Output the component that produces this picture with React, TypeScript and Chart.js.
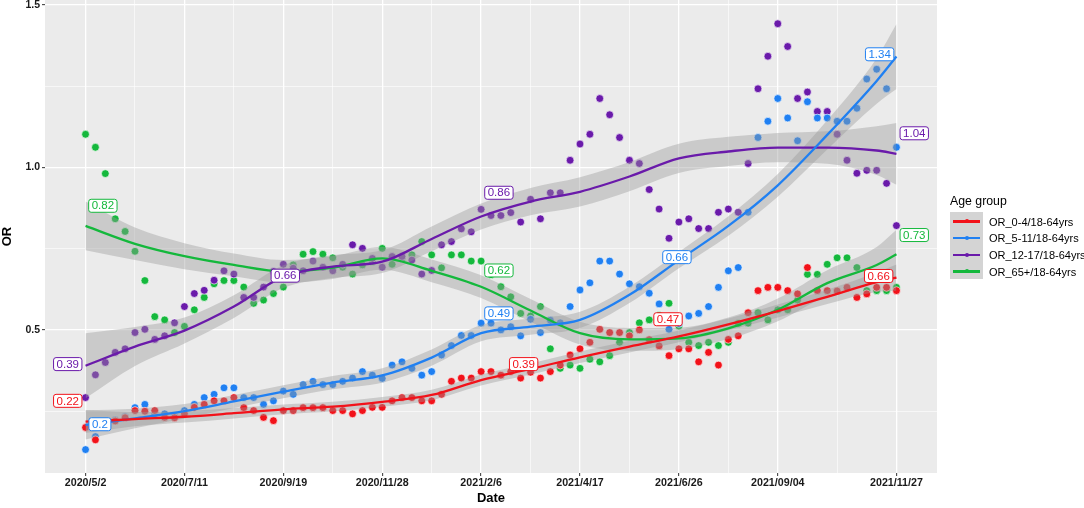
import React, { useEffect, useRef } from 'react';
import { Chart, registerables } from 'chart.js';

Chart.register(...registerables);

// weekly OR values, week 0 = 2020/5/2 ... week 82 = 2021/11/27
const or04 = [
  0.2, 0.162, 0.21, 0.22, 0.23, 0.252, 0.25, 0.252, 0.231, 0.23, 0.242, 0.262, 0.271, 0.282, 0.282, 0.292,
  0.261, 0.252, 0.231, 0.221, 0.252, 0.252, 0.261, 0.261, 0.261, 0.252, 0.252, 0.242, 0.252, 0.262, 0.262,
  0.282, 0.292, 0.292, 0.282, 0.282, 0.302, 0.342, 0.352, 0.352, 0.372, 0.372, 0.361, 0.372, 0.352, 0.37,
  0.352, 0.372, 0.392, 0.423, 0.442, 0.462, 0.502, 0.492, 0.492, 0.482, 0.5, 0.47, 0.451, 0.421, 0.442,
  0.442, 0.402, 0.431, 0.392, 0.471, 0.482, 0.553, 0.621, 0.631, 0.631, 0.621, 0.611, 0.692, 0.621, 0.621,
  0.62, 0.631, 0.6, 0.611, 0.631, 0.631, 0.621,
];
const or511 = [
  0.132, 0.172, 0.21, 0.223, 0.233, 0.261, 0.271, 0.242, 0.242, 0.234, 0.252, 0.271, 0.292, 0.302, 0.322,
  0.322, 0.292, 0.292, 0.271, 0.282, 0.312, 0.302, 0.332, 0.342, 0.332, 0.332, 0.342, 0.352, 0.372, 0.361,
  0.351, 0.392, 0.402, 0.382, 0.361, 0.372, 0.423, 0.452, 0.483, 0.483, 0.521, 0.521, 0.5, 0.51, 0.482,
  0.533, 0.492, 0.53, 0.522, 0.572, 0.623, 0.645, 0.712, 0.712, 0.672, 0.642, 0.633, 0.613, 0.58, 0.502,
  0.52, 0.543, 0.551, 0.572, 0.631, 0.682, 0.692, 0.862, 1.092, 1.142, 1.212, 1.152, 1.082, 1.202, 1.152,
  1.152, 1.142, 1.142, 1.182, 1.272, 1.302, 1.242, 1.062,
];
const or1217 = [
  0.292, 0.362, 0.4, 0.431, 0.442, 0.492, 0.502, 0.471, 0.482, 0.522, 0.572, 0.612, 0.622, 0.653, 0.682,
  0.672, 0.6, 0.6, 0.632, 0.68, 0.702, 0.69, 0.682, 0.712, 0.693, 0.682, 0.702, 0.762, 0.751, 0.72, 0.693,
  0.726, 0.726, 0.715, 0.672, 0.683, 0.762, 0.772, 0.811, 0.802, 0.871, 0.852, 0.852, 0.861, 0.832, 0.902,
  0.842, 0.922, 0.922, 1.022, 1.072, 1.102, 1.212, 1.162, 1.092, 1.022, 1.012, 0.932, 0.872, 0.782, 0.832,
  0.842, 0.812, 0.812, 0.862, 0.872, 0.862, 1.012, 1.242, 1.342, 1.442, 1.372, 1.212, 1.232, 1.172, 1.172,
  1.102, 1.022, 0.982, 0.991, 0.991, 0.951, 0.821,
];
const or65 = [
  1.102, 1.062, 0.981, 0.842, 0.803, 0.742, 0.652, 0.541, 0.531, 0.492, 0.511, 0.562, 0.6, 0.642, 0.652,
  0.652, 0.632, 0.582, 0.592, 0.612, 0.632, 0.7, 0.733, 0.741, 0.733, 0.722, 0.693, 0.672, 0.7, 0.71, 0.751,
  0.702, 0.72, 0.731, 0.772, 0.731, 0.691, 0.731, 0.731, 0.712, 0.712, 0.67, 0.633, 0.602, 0.551, 0.543,
  0.572, 0.442, 0.382, 0.392, 0.382, 0.41, 0.402, 0.421, 0.462, 0.492, 0.522, 0.531, 0.545, 0.582, 0.512,
  0.462, 0.452, 0.462, 0.452, 0.462, 0.52, 0.521, 0.553, 0.531, 0.562, 0.562, 0.592, 0.671, 0.671, 0.702,
  0.722, 0.722, 0.692, 0.621, 0.621, 0.621, 0.631,
];

// smoothed fit and its half band, read at these weeks
const fitWeeks = [0, 5, 10, 15, 20, 25, 30, 35, 40, 45, 50, 55, 60, 65, 70, 75, 80, 82];
const fit04 = [0.218, 0.226, 0.233, 0.244, 0.256, 0.264, 0.279, 0.3, 0.346, 0.38, 0.416, 0.449, 0.48, 0.517, 0.558, 0.602, 0.647, 0.661];
const se04 = [0.035, 0.022, 0.018, 0.016, 0.015, 0.015, 0.015, 0.016, 0.017, 0.017, 0.018, 0.018, 0.018, 0.018, 0.02, 0.022, 0.03, 0.04];
const fit511 = [0.208, 0.228, 0.25, 0.28, 0.31, 0.338, 0.36, 0.415, 0.49, 0.51, 0.531, 0.608, 0.715, 0.82, 0.945, 1.1, 1.266, 1.341];
const se511 = [0.045, 0.03, 0.022, 0.02, 0.02, 0.02, 0.022, 0.025, 0.025, 0.025, 0.025, 0.025, 0.025, 0.03, 0.035, 0.045, 0.07, 0.1];
const fit1217 = [0.39, 0.449, 0.498, 0.572, 0.664, 0.695, 0.71, 0.78, 0.849, 0.895, 0.925, 0.972, 1.028, 1.049, 1.061, 1.061, 1.052, 1.042];
const se1217 = [0.1, 0.06, 0.04, 0.035, 0.035, 0.035, 0.035, 0.038, 0.04, 0.042, 0.045, 0.045, 0.045, 0.045, 0.045, 0.05, 0.075, 0.095];
const fit65 = [0.82, 0.765, 0.727, 0.7, 0.68, 0.692, 0.72, 0.682, 0.633, 0.56, 0.49, 0.471, 0.474, 0.505, 0.562, 0.644, 0.7, 0.733];
const se65 = [0.075, 0.05, 0.04, 0.035, 0.035, 0.035, 0.035, 0.035, 0.035, 0.035, 0.035, 0.035, 0.033, 0.033, 0.035, 0.04, 0.055, 0.075];

const seriesNames = ['OR_0-4/18-64yrs', 'OR_5-11/18-64yrs', 'OR_12-17/18-64yrs', 'OR_65+/18-64yrs'];
const seriesColors = ['#F2121A', '#2080F2', '#6A1AAA', '#14B83C'];

const tickWeeks = [0, 10, 20, 30, 40, 50, 60, 70, 82];
const tickLabels = ['2020/5/2', '2020/7/11', '2020/9/19', '2020/11/28', '2021/2/6', '2021/4/17', '2021/6/26', '2021/09/04', '2021/11/27'];
const minorWeeks = [5, 15, 25, 35, 45, 55, 65, 76];
const yTicks = [0.5, 1.0, 1.5];
const yMinor = [0.25, 0.75, 1.25];

// value labels
const labelTexts = ['0.22', '0.2', '0.39', '0.82', '0.66', '0.86', '0.62', '0.49', '0.39', '0.47', '0.66', '1.34', '1.04', '0.73', '0.66'];
const labelSeries = [0, 1, 2, 3, 2, 2, 3, 1, 0, 0, 1, 1, 2, 3, 0];
const labelWeeks = [-1.8, 1.45, -1.8, 1.75, 20.2, 41.8, 41.8, 41.8, 44.3, 58.9, 59.8, 80.3, 83.8, 83.8, 80.2];
const labelValues = [0.282, 0.21, 0.395, 0.882, 0.667, 0.922, 0.683, 0.551, 0.395, 0.533, 0.724, 1.348, 1.105, 0.792, 0.666];

const FONT = '"Liberation Sans", Arial, sans-serif';

const panelBg = {
  id: 'panelBg',
  beforeDraw(chart: any) {
    const { ctx, chartArea: a } = chart;
    ctx.save();
    ctx.fillStyle = '#EBEBEB';
    ctx.fillRect(a.left, a.top, a.right - a.left, a.bottom - a.top);
    ctx.restore();
  },
};

const valueLabels = {
  id: 'valueLabels',
  afterDatasetsDraw(chart: any) {
    const { ctx, scales } = chart;
    ctx.save();
    ctx.font = `11.5px ${FONT}`;
    ctx.textAlign = 'center';
    ctx.textBaseline = 'middle';
    labelTexts.forEach((t, i) => {
      const col = seriesColors[labelSeries[i]];
      const cx = scales.x.getPixelForValue(labelWeeks[i]);
      const cy = scales.y.getPixelForValue(labelValues[i]);
      const w = ctx.measureText(t).width + 6;
      const h = 13;
      ctx.beginPath();
      ctx.roundRect(cx - w / 2, cy - h / 2, w, h, 2.5);
      ctx.fillStyle = '#ffffff';
      ctx.fill();
      ctx.lineWidth = 1;
      ctx.strokeStyle = col;
      ctx.stroke();
      ctx.fillStyle = col;
      ctx.fillText(t, cx, cy + 0.5);
    });
    ctx.restore();
  },
};

const axisTitles = {
  id: 'axisTitles',
  afterDraw(chart: any) {
    const { ctx, chartArea: a } = chart;
    ctx.save();
    ctx.font = `bold 13px ${FONT}`;
    ctx.fillStyle = '#000';
    ctx.textAlign = 'center';
    ctx.textBaseline = 'middle';
    ctx.fillText('Date', (a.left + a.right) / 2, 498);
    ctx.translate(7, (a.top + a.bottom) / 2);
    ctx.rotate(-Math.PI / 2);
    ctx.fillText('OR', 0, 0);
    ctx.restore();
  },
};

const App: React.FC = () => {
  const canvasRef = useRef<HTMLCanvasElement>(null);

  useEffect(() => {
    document.body.style.margin = '0';
    if (!canvasRef.current) return;

    const all = [
      { pts: or04, fit: fit04, se: se04 },
      { pts: or511, fit: fit511, se: se511 },
      { pts: or1217, fit: fit1217, se: se1217 },
      { pts: or65, fit: fit65, se: se65 },
    ];

    const datasets: any[] = [];
    all.forEach((s, k) => {
      datasets.push({
        type: 'scatter',
        label: seriesNames[k],
        data: s.pts.map((y, i) => ({ x: i, y })),
        backgroundColor: seriesColors[k],
        borderColor: 'rgba(255,255,255,0.9)',
        borderWidth: 0.7,
        pointRadius: 3.9,
        order: 3,
      });
    });
    all.forEach((s) => {
      datasets.push({
        type: 'line',
        data: fitWeeks.map((x, i) => ({ x, y: s.fit[i] - s.se[i] })),
        borderWidth: 0,
        borderColor: 'rgba(0,0,0,0)',
        pointRadius: 0,
        fill: false,
        cubicInterpolationMode: 'monotone',
        order: 2,
      });
      datasets.push({
        type: 'line',
        data: fitWeeks.map((x, i) => ({ x, y: s.fit[i] + s.se[i] })),
        borderWidth: 0,
        borderColor: 'rgba(0,0,0,0)',
        backgroundColor: 'rgba(153,153,153,0.4)',
        pointRadius: 0,
        fill: '-1',
        cubicInterpolationMode: 'monotone',
        order: 2,
      });
    });
    all.forEach((s, k) => {
      datasets.push({
        type: 'line',
        data: fitWeeks.map((x, i) => ({ x, y: s.fit[i] })),
        borderColor: seriesColors[k],
        borderWidth: 2.3,
        pointRadius: 0,
        fill: false,
        cubicInterpolationMode: 'monotone',
        order: 1,
      });
    });

    const chart = new Chart(canvasRef.current, {
      type: 'scatter',
      data: { datasets },
      plugins: [panelBg, valueLabels, axisTitles],
      options: {
        responsive: false,
        animation: false,
        events: [],
        layout: { autoPadding: false, padding: { left: 0, right: 147, top: 0, bottom: 0 } },
        plugins: {
          legend: { display: false },
          tooltip: { enabled: false },
        },
        scales: {
          x: {
            type: 'linear',
            min: -4.1,
            max: 86.1,
            border: { display: false },
            afterBuildTicks: (scale: any) => {
              scale.ticks = [...tickWeeks, ...minorWeeks].sort((a, b) => a - b).map((v) => ({ value: v }));
            },
            afterFit: (scale: any) => {
              scale.height = 35;
              scale.paddingLeft = 0;
              scale.paddingRight = 0;
            },
            grid: {
              color: '#ffffff',
              lineWidth: (c: any) => (tickWeeks.includes(c.tick?.value) ? 1.3 : 0.6),
              tickColor: (c: any) => (tickWeeks.includes(c.tick?.value) ? '#333333' : 'rgba(0,0,0,0)'),
              tickWidth: 1,
              tickLength: 3,
            },
            ticks: {
              autoSkip: false,
              maxRotation: 0,
              padding: 1,
              color: '#1a1a1a',
              font: { family: FONT, size: 10.7, weight: 'bold' },
              callback: (v: any) => {
                const i = tickWeeks.indexOf(Number(v));
                return i >= 0 ? tickLabels[i] : '';
              },
            },
          },
          y: {
            type: 'linear',
            min: 0.06,
            max: 1.515,
            border: { display: false },
            afterBuildTicks: (scale: any) => {
              scale.ticks = [...yTicks, ...yMinor].sort((a, b) => a - b).map((v) => ({ value: v }));
            },
            afterFit: (scale: any) => {
              scale.width = 45;
              scale.paddingTop = 0;
              scale.paddingBottom = 0;
            },
            grid: {
              color: '#ffffff',
              lineWidth: (c: any) => (yTicks.includes(c.tick?.value) ? 1.3 : 0.6),
              tickColor: (c: any) => (yTicks.includes(c.tick?.value) ? '#333333' : 'rgba(0,0,0,0)'),
              tickWidth: 1,
              tickLength: 3,
            },
            ticks: {
              padding: 2,
              color: '#1a1a1a',
              font: { family: FONT, size: 10.5, weight: 'bold' },
              callback: (v: any) => (yTicks.includes(Number(v)) ? Number(v).toFixed(1) : ''),
            },
          },
        },
      } as any,
    });

    return () => chart.destroy();
  }, []);

  const keyRow = (k: number) => (
    <div key={k} style={{ position: 'absolute', left: 0, top: k * 16.7, height: 16.7, width: 140 }}>
      <div style={{ position: 'absolute', left: 3, top: 8.3, width: 27, height: 2.3, background: seriesColors[k] }} />
      <div
        style={{
          position: 'absolute', left: 14.5, top: 7.4, width: 4, height: 4,
          borderRadius: '50%', background: seriesColors[k],
        }}
      />
      <div style={{ position: 'absolute', left: 39, top: 1.5, fontSize: 11, lineHeight: '16px', color: '#000', whiteSpace: 'nowrap' }}>
        {seriesNames[k]}
      </div>
    </div>
  );

  return (
    <div style={{ position: 'relative', width: 1084, height: 508, fontFamily: FONT }}>
      <canvas ref={canvasRef} width={1084} height={508} style={{ width: 1084, height: 508, display: 'block' }} />
      <div style={{ position: 'absolute', left: 950, top: 193 }}>
        <div style={{ fontSize: 12.3, lineHeight: '16px', color: '#000', whiteSpace: 'nowrap' }}>Age group</div>
        <div style={{ position: 'absolute', left: 0, top: 19, width: 33, height: 67, background: '#D4D4D4' }} />
        <div style={{ position: 'absolute', left: 0, top: 19 }}>
          {[0, 1, 2, 3].map((k) => keyRow(k))}
        </div>
      </div>
    </div>
  );
};

export default App;
